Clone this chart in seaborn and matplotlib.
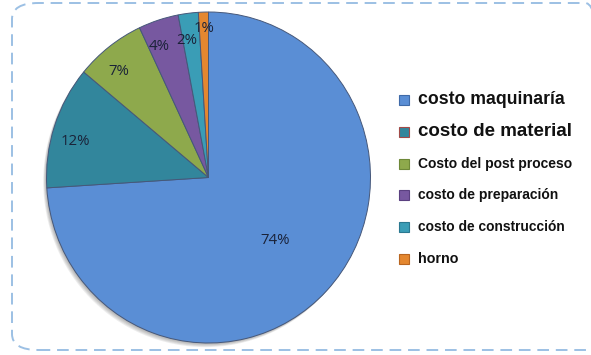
import matplotlib
matplotlib.use("Agg")
import matplotlib.pyplot as plt
from matplotlib.patches import FancyBboxPatch, Circle, Rectangle
import numpy as np
import seaborn as sns

# Cost breakdown
categories = ["costo maquinaría", "costo de material", "Costo del post proceso",
              "costo de preparación", "costo de construcción", "horno"]
shares = [74, 12, 7, 4, 2, 1]
pct_labels = ["74%", "12%", "7%", "4%", "2%", "1%"]

colors = ["#5A8ED5", "#32869C", "#8EA94C", "#7758A0", "#3A9DB6", "#E4872F"]
marker_edges = ["#3F6AA8", "#A24A48", "#6E8838", "#5A4080", "#2A7890", "#B86520"]
legend_sizes = [12.7, 13.5, 10.0, 10.0, 9.9, 10.3]

sns.set_theme(style="white")
plt.rcParams["font.family"] = ["Liberation Sans", "DejaVu Sans"]

W, H, DPI = 591, 355, 100
fig = plt.figure(figsize=(W / DPI, H / DPI), dpi=DPI)
fig.patch.set_facecolor("white")

# dashed rounded frame
frame = FancyBboxPatch((12 / W, 5 / H), 600 / W, 347 / H,
                       boxstyle="round,pad=0,rounding_size=0.045",
                       transform=fig.transFigure, fill=False,
                       edgecolor="#9CC0E4", linewidth=1.4,
                       linestyle=(0, (6, 3.5)), clip_on=False)
fig.add_artist(frame)

cx, cy, rx, ry = 208.5, 177.5, 162, 165.5
lim = 1.04
ax = fig.add_axes([(cx - rx * lim) / W, (H - cy - ry * lim) / H,
                   2 * rx * lim / W, 2 * ry * lim / H])

# soft drop shadow towards the lower left
for k in range(1, 6):
    ax.add_patch(Circle((-0.004 * k, -0.005 * k), 1.0, facecolor="#505050",
                        edgecolor="none", alpha=0.10, zorder=0))

wedges, _ = ax.pie(shares, colors=colors, startangle=90, counterclock=False,
                   radius=1.0,
                   wedgeprops=dict(edgecolor="#46587a", linewidth=0.7, zorder=2))
ax.set_aspect("auto")
ax.set_xlim(-lim, lim)
ax.set_ylim(-lim, lim)
ax.axis("off")

# percentage labels: big slice labelled inside, small ones near the rim
label_dist = [0.56, 0.85, 0.85, 0.85, 0.84, 0.90]
label_turn = [0.0, 3.0, 3.0, 3.0, 2.0, 0.0]
for w, lab, d, turn in zip(wedges, pct_labels, label_dist, label_turn):
    a = np.deg2rad((w.theta1 + w.theta2) / 2 + turn)
    ax.text(d * np.cos(a), d * np.sin(a), lab, ha="center", va="center",
            fontsize=10.8, color="#1A2238", family=["Open Sans", "DejaVu Sans"],
            zorder=5)

# legend: colour squares with labels
x0, y0, dy, sq = 399, 100, 31.8, 10
for i, (cat, col, ec, fs) in enumerate(zip(categories, colors, marker_edges,
                                           legend_sizes)):
    yc = y0 + i * dy
    fig.add_artist(Rectangle((x0 / W, (H - yc - sq / 2) / H), sq / W, sq / H,
                             transform=fig.transFigure, facecolor=col,
                             edgecolor=ec, linewidth=0.8))
    fig.text((x0 + sq + 9) / W, (H - yc) / H, cat, ha="left", va="center",
             fontsize=fs, fontweight="bold", color="#111111")

fig.savefig("out.png", dpi=DPI, facecolor="white")
